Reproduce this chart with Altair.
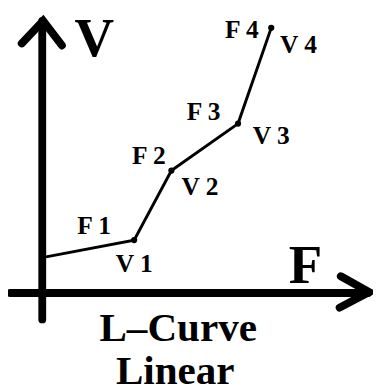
import altair as alt
import pandas as pd

# Piecewise-linear L-curve (F, V)
curve_f = [0.13, 3.13, 4.40, 6.67, 7.80]
curve_v = [1.23, 1.80, 4.17, 5.77, 9.03]

# Vertices with dots (V1..V4)
dot_f = [3.13, 4.40, 6.67, 7.80]
dot_v = [1.80, 4.17, 5.77, 9.03]

# Axis lines
axis_name = ["V", "V", "F", "F"]
axis_f = [0.0, 0.0, -1.10, 11.10]
axis_v = [-0.90, 9.27, 0.0, 0.0]

# Arrow heads (chevrons)
head_name = ["V", "V", "V", "F", "F", "F"]
head_order = [0, 1, 2, 0, 1, 2]
head_f = [-0.70, 0.03, 0.67, 10.17, 11.13, 10.13]
head_v = [8.50, 9.27, 8.43, 0.57, 0.03, -0.50]

# Small labels
label_text = ["F 1", "V 1", "F 2", "V 2", "F 3", "V 3", "F 4", "V 4"]
label_f = [1.77, 3.13, 3.63, 5.37, 5.50, 7.80, 6.80, 8.73]
label_v = [2.00, 0.73, 4.40, 3.33, 5.90, 5.07, 8.67, 8.17]

# Axis letters
axis_letter = ["V", "F"]
axis_letter_f = [1.77, 8.97]
axis_letter_v = [8.07, 0.33]

# Caption
caption_text = ["L\u2013Curve", "Linear"]
caption_f = [4.63, 4.53]
caption_v = [-1.63, -3.10]

xs = alt.Scale(domain=[-1.1667, 11.2667], nice=False, zero=False)
ys = alt.Scale(domain=[-3.2333, 9.5667], nice=False, zero=False)

def X(field):
    return alt.X(field, type="quantitative", scale=xs, axis=None)

def Y(field):
    return alt.Y(field, type="quantitative", scale=ys, axis=None)

curve_df = pd.DataFrame({"f": curve_f, "v": curve_v, "o": list(range(len(curve_f)))})
dot_df = pd.DataFrame({"f": dot_f, "v": dot_v})
axis_df = pd.DataFrame({"name": axis_name, "f": axis_f, "v": axis_v, "o": [0, 1, 0, 1]})
head_df = pd.DataFrame({"name": head_name, "f": head_f, "v": head_v, "o": head_order})
label_df = pd.DataFrame({"t": label_text, "f": label_f, "v": label_v})
letter_df = pd.DataFrame({"t": axis_letter, "f": axis_letter_f, "v": axis_letter_v})
caption_df = pd.DataFrame({"t": caption_text, "f": caption_f, "v": caption_v})

font = "Liberation Serif"

axes = alt.Chart(axis_df).mark_line(color="black", strokeWidth=8, strokeCap="round").encode(
    x=X("f"), y=Y("v"), detail="name:N", order="o:Q"
)
heads = alt.Chart(head_df).mark_line(
    color="black", strokeWidth=8, strokeCap="round", strokeJoin="miter"
).encode(x=X("f"), y=Y("v"), detail="name:N", order="o:Q")

curve = alt.Chart(curve_df).mark_line(color="black", strokeWidth=3).encode(
    x=X("f"), y=Y("v"), order="o:Q"
)
dots = alt.Chart(dot_df).mark_circle(color="black", size=40, opacity=1).encode(
    x=X("f"), y=Y("v")
)

labels = alt.Chart(label_df).mark_text(
    font=font, fontWeight="bold", fontSize=26, align="center", baseline="alphabetic", color="black"
).encode(x=X("f"), y=Y("v"), text="t:N")

letters = alt.Chart(letter_df).mark_text(
    font=font, fontWeight="bold", fontSize=56, align="center", baseline="alphabetic", color="black"
).encode(x=X("f"), y=Y("v"), text="t:N")

caption = alt.Chart(caption_df).mark_text(
    font=font, fontWeight="bold", fontSize=42, align="center", baseline="alphabetic", color="black"
).encode(x=X("f"), y=Y("v"), text="t:N")

chart = alt.layer(axes, heads, curve, dots, labels, letters, caption).properties(
    width=373,
    height=384,
    autosize=alt.AutoSizeParams(type="none"),
    padding=0,
    background="white",
).configure_view(stroke=None)

chart.save("out.html", embed_options={"renderer": "svg", "actions": False})
